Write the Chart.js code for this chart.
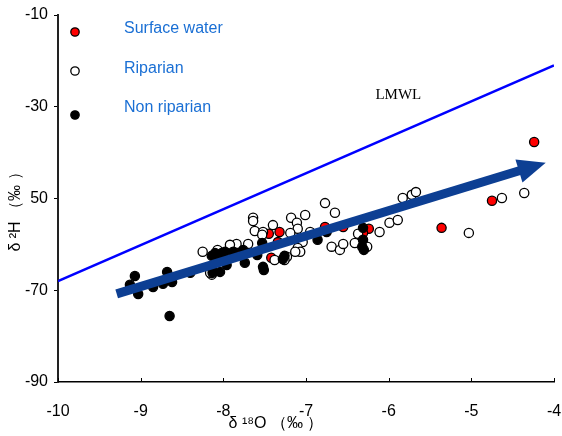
<!DOCTYPE html>
<html>
<head>
<meta charset="utf-8">
<script src="https://cdn.jsdelivr.net/npm/chart.js@4/dist/chart.umd.min.js"></script>
<style>
  html, body { margin: 0; padding: 0; background: #fff; }
  #wrap { width: 562px; height: 436px; }
</style>
</head>
<body>
<div id="wrap"><canvas id="isotope"></canvas></div>
<script>
// values (δ18O, δ2H in ‰)
const surfaceX = [-7.45, -7.32, -7.34, -7.42, -7.85, -6.77, -6.55, -6.24, -6.31, -5.36, -4.75, -4.24];
const surfaceY = [-57.7, -57.3, -59.5, -62.9, -61.2, -56.2, -56.2, -56.6, -57.5, -56.4, -50.5, -37.7];

const riparianX = [-7.64, -7.64, -7.62, -7.52, -7.53, -7.40, -7.18, -7.11, -7.10, -7.01, -6.95, -6.77, -6.65,
  -7.04, -7.10, -7.07, -7.23, -7.26, -7.38, -7.84, -7.70, -7.92, -8.07, -8.25, -8.14, -8.16,
  -6.69, -6.59, -6.55, -6.41, -6.37, -6.26, -6.11, -5.99, -5.89, -5.83, -5.72, -5.67,
  -5.03, -4.63, -4.36, -7.19, -7.13];
const riparianY = [-54.2, -54.9, -57.1, -57.3, -57.9, -55.8, -54.2, -55.3, -56.6, -53.6, -57.3, -51.0, -53.1,
  -59.5, -60.8, -61.6, -62.7, -63.4, -63.4, -59.9, -59.9, -60.1, -61.2, -61.6, -66.6, -66.2,
  -60.5, -61.2, -59.9, -59.7, -57.7, -60.5, -57.3, -55.3, -54.7, -49.9, -49.2, -48.6,
  -57.5, -49.9, -48.8, -57.5, -61.6];

const nonRipX = [-9.07, -9.13, -9.03, -8.85, -8.68, -8.68, -8.62, -8.73, -8.40, -8.65,
  -8.14, -8.10, -8.07, -8.04, -8.13, -7.96, -7.98, -7.88, -7.76, -7.74, -7.59, -7.53, -7.51,
  -7.28, -7.26, -6.86, -6.75, -6.31, -6.31, -6.32, -6.30, -8.02, -8.00, -8.14, -7.52];
const nonRipY = [-66.9, -68.8, -70.8, -69.3, -66.0, -67.7, -68.2, -68.6, -66.2, -75.6,
  -62.5, -61.9, -63.4, -66.0, -66.2, -64.5, -61.6, -61.6, -61.2, -64.0, -62.3, -59.7, -65.6,
  -63.2, -62.5, -59.0, -57.3, -56.4, -59.0, -60.5, -61.2, -61.9, -63.4, -65.1, -64.9];

// local meteoric water line end points and trend arrow end points
const lmwlX = [-10, -4];
const lmwlY = [-68, -21];
const arrowX = [-9.29, -4.10];
const arrowY = [-70.8, -42.2];

const xTicks = [-10, -9, -8, -7, -6, -5, -4];
const xTickLabels = ['-10', '-9', '-8', '-7', '-6', '-5', '-4'];
const yTicks = [-90, -70, -50, -30, -10];
const yTickLabels = ['-90', '-70', '50', '-30', '-10'];

const legendNames = ['Surface water', 'Riparian', 'Non riparian'];
const legendFills = ['#ff0000', '#ffffff', '#000000'];

function pts(xs, ys) {
  return xs.map((x, i) => ({x: x, y: ys[i]}));
}

const FONT = '"Liberation Sans", Arial, sans-serif';

const extras = {
  id: 'extras',
  afterDatasetsDraw(chart) {
    const ctx = chart.ctx;
    const sx = chart.scales.x, sy = chart.scales.y;
    ctx.save();

    // trend arrow
    const x0 = sx.getPixelForValue(arrowX[0]), y0 = sy.getPixelForValue(arrowY[0]);
    const x1 = sx.getPixelForValue(arrowX[1]), y1 = sy.getPixelForValue(arrowY[1]);
    const ang = Math.atan2(y1 - y0, x1 - x0);
    const headLen = 28, headW = 12;
    const bx = x1 - headLen * Math.cos(ang), by = y1 - headLen * Math.sin(ang);
    ctx.strokeStyle = '#0d3f93';
    ctx.fillStyle = '#0d3f93';
    ctx.lineWidth = 9;
    ctx.lineCap = 'butt';
    ctx.beginPath();
    ctx.moveTo(x0, y0);
    ctx.lineTo(bx + 2 * Math.cos(ang), by + 2 * Math.sin(ang));
    ctx.stroke();
    ctx.beginPath();
    ctx.moveTo(x1, y1);
    ctx.lineTo(bx - headW * Math.sin(ang), by + headW * Math.cos(ang));
    ctx.lineTo(bx + headW * Math.sin(ang), by - headW * Math.cos(ang));
    ctx.closePath();
    ctx.fill();

    // LMWL label
    ctx.fillStyle = '#000';
    ctx.font = '15px "Liberation Serif", "Times New Roman", serif';
    ctx.textAlign = 'left';
    ctx.textBaseline = 'middle';
    ctx.fillText('LMWL', sx.getPixelForValue(-6.16), sy.getPixelForValue(-27.4));

    // inward ticks on x axis
    ctx.strokeStyle = '#000';
    ctx.lineWidth = 1;
    const base = chart.chartArea.bottom;
    xTicks.forEach(v => {
      const px = Math.round(sx.getPixelForValue(v)) + 0.5;
      ctx.beginPath();
      ctx.moveTo(px, base);
      ctx.lineTo(px, base - 4);
      ctx.stroke();
    });

    // legend
    ctx.font = '16px ' + FONT;
    legendNames.forEach((name, i) => {
      const ly = [32, 71, 115][i];
      ctx.beginPath();
      ctx.arc(75, ly, 4.2, 0, Math.PI * 2);
      ctx.fillStyle = legendFills[i];
      ctx.fill();
      ctx.lineWidth = 1.3;
      ctx.strokeStyle = '#000';
      ctx.stroke();
      ctx.fillStyle = '#1a6fd4';
      ctx.fillText(name, 124, [29, 69, 108][i]);
    });

    // axis titles
    ctx.fillStyle = '#000';
    ctx.textAlign = 'center';
    ctx.font = '16px ' + FONT;
    ctx.fillText('δ ¹⁸O （‰ ）', 276, 424);
    ctx.translate(16, 208);
    ctx.rotate(-Math.PI / 2);
    ctx.fillText('δ ²H （‰ ）', 0, 0);
    ctx.restore();
  }
};

const pointStyle = (fill) => ({
  showLine: false,
  pointRadius: 4.6,
  pointHoverRadius: 4.6,
  pointBackgroundColor: fill,
  pointBorderColor: '#000',
  pointBorderWidth: 1.3
});

new Chart(document.getElementById('isotope'), {
  type: 'scatter',
  data: {
    datasets: [
      Object.assign({label: 'Non riparian', data: pts(nonRipX, nonRipY), order: 1}, pointStyle('#000000')),
      Object.assign({label: 'Riparian', data: pts(riparianX, riparianY), order: 2}, pointStyle('#ffffff')),
      Object.assign({label: 'Surface water', data: pts(surfaceX, surfaceY), order: 3}, pointStyle('#ff0000')),
      {
        label: 'LMWL',
        type: 'line',
        data: pts(lmwlX, lmwlY),
        borderColor: '#0000ff',
        borderWidth: 2.5,
        pointRadius: 0,
        fill: false,
        order: 4
      }
    ]
  },
  options: {
    responsive: true,
    maintainAspectRatio: false,
    animation: false,
    layout: { padding: { top: 15, right: 0, left: 0, bottom: 0 } },
    plugins: { legend: { display: false }, tooltip: { enabled: false } },
    scales: {
      x: {
        type: 'linear',
        min: -10,
        max: -4,
        afterFit: s => { s.height = 54; s.paddingRight = 8; s.paddingLeft = 0; },
        afterBuildTicks: s => { s.ticks = xTicks.map(v => ({value: v})); },
        ticks: {
          color: '#000',
          font: { size: 16, family: FONT },
          padding: 20,
          callback: v => xTickLabels[xTicks.indexOf(v)]
        },
        grid: { display: false, drawOnChartArea: false, drawTicks: false },
        border: { display: true, color: '#000', width: 1.5 }
      },
      y: {
        type: 'linear',
        min: -90,
        max: -10,
        afterFit: s => { s.width = 58; s.paddingTop = 0; s.paddingBottom = 0; },
        afterBuildTicks: s => { s.ticks = yTicks.map(v => ({value: v})); },
        ticks: {
          color: '#000',
          font: { size: 16, family: FONT },
          padding: 6,
          callback: v => yTickLabels[yTicks.indexOf(v)]
        },
        grid: { drawOnChartArea: false, drawTicks: true, tickLength: 4, color: '#000' },
        border: { display: true, color: '#222', width: 2 }
      }
    }
  },
  plugins: [extras]
});
</script>
</body>
</html>
